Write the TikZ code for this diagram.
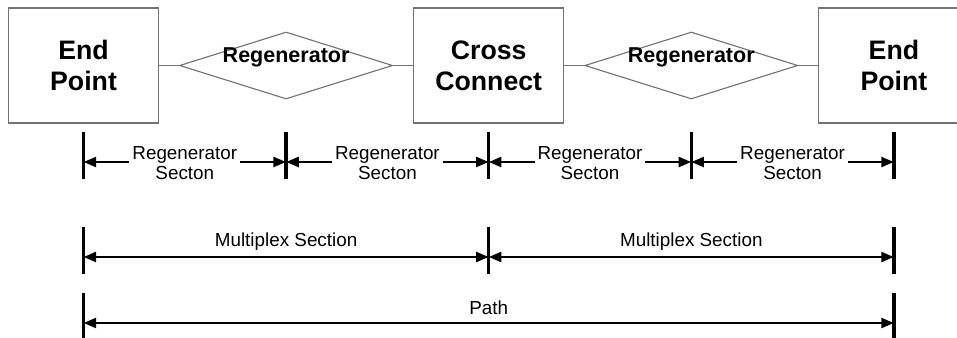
\documentclass[tikz,border=0pt]{standalone}
\usepackage{fontspec}
\setmainfont{Liberation Sans}
\usetikzlibrary{shapes.geometric,arrows.meta}

\begin{document}
\begin{tikzpicture}[x=0.025cm, y=-0.025cm,
  box/.style={draw=black!55, line width=0.8pt, minimum width=3.75cm, minimum height=2.875cm,
    align=center, font=\fontsize{19}{22}\selectfont\bfseries},
  regen/.style={draw=black!55, line width=0.8pt, diamond, inner sep=0pt,
    minimum width=5.325cm, minimum height=1.675cm},
  regtext/.style={font=\fontsize{15.3}{18}\selectfont\bfseries, inner sep=0pt},
  link/.style={draw=black!55, line width=0.8pt},
  tick/.style={line width=2.4pt},
  dimto/.style={line width=2pt, -{Triangle[length=9pt,width=7pt]}},
  dimboth/.style={line width=2pt, {Triangle[length=9pt,width=7pt]}-{Triangle[length=9pt,width=7pt]}},
  lbl/.style={font=\fontsize{13.4}{14.2}\selectfont, align=center, inner sep=2pt}
]
\useasboundingbox (0,0) rectangle (957,337);

% network elements
\node[box] (ep1) at (83.5,65.5) {End\\Point};
\node[regen] (reg1) at (286.1,65.5) {};
\node[regtext] at (286.1,57.5) {Regenerator};
\node[box] (xc) at (488.7,65.5) {Cross\\Connect};
\node[regen] (reg2) at (691.3,65.5) {};
\node[regtext] at (691.3,57.5) {Regenerator};
\node[box] (ep2) at (893.9,65.5) {End\\Point};
\draw[link] (ep1) -- (reg1);
\draw[link] (reg1) -- (xc);
\draw[link] (xc) -- (reg2);
\draw[link] (reg2) -- (ep2);

% regenerator sections
\foreach \x in {83.5,286.1,488.7,691.3,893.9}
  \draw[tick] (\x,132) -- (\x,179);
\foreach \i/\xa/\xb in {1/83.5/286.1, 2/286.1/488.7, 3/488.7/691.3, 4/691.3/893.9} {
  \coordinate (rl\i) at (\xa,162);
  \coordinate (rr\i) at (\xb,162);
  \node[lbl] (rs\i) at ({(\xa+\xb)/2},163) {Regenerator\\Secton};
  \draw[dimto] (rs\i.west |- rl\i) -- (rl\i);
  \draw[dimto] (rs\i.east |- rr\i) -- (rr\i);
}

% multiplex sections
\foreach \x in {83.5,488.7,893.9}
  \draw[tick] (\x,227) -- (\x,274);
\coordinate (m0) at (83.5,257);
\coordinate (m1) at (488.7,257);
\coordinate (m2) at (893.9,257);
\node[lbl] (ms1) at (286.1,242) {Multiplex Section};
\node[lbl] (ms2) at (691.3,242) {Multiplex Section};
\draw[dimboth] (m0) -- (m1);
\draw[dimboth] (m1) -- (m2);

% path
\foreach \x in {83.5,893.9}
  \draw[tick] (\x,293) -- (\x,340);
\coordinate (p0) at (83.5,323);
\coordinate (p1) at (893.9,323);
\node[lbl] (pth) at (488.7,307.5) {Path};
\draw[dimboth] (p0) -- (p1);
\end{tikzpicture}
\end{document}
